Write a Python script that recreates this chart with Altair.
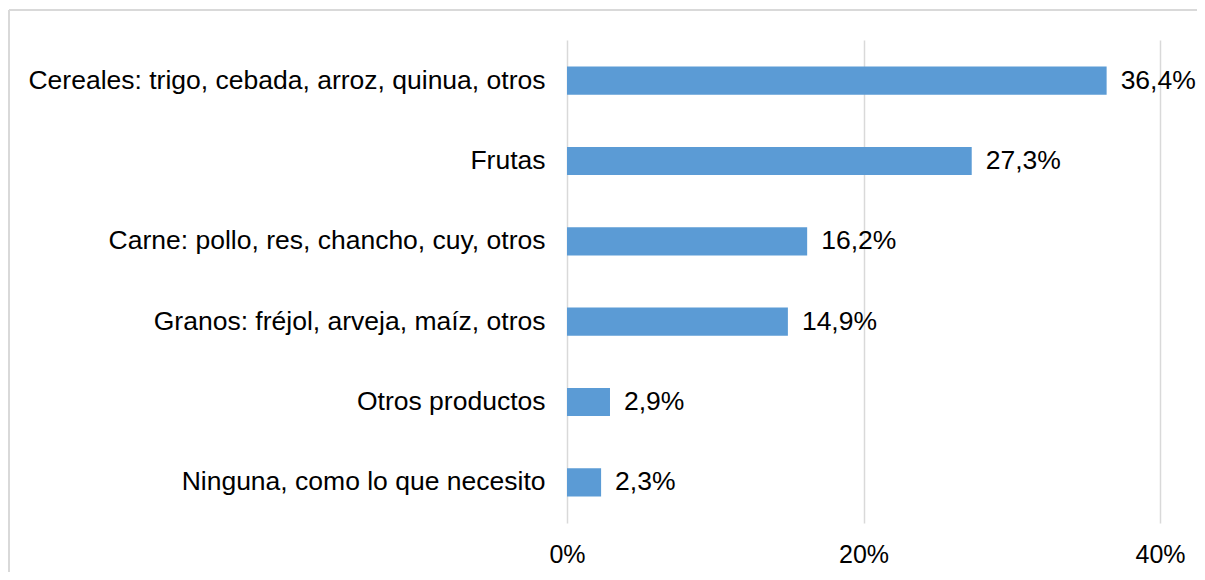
import altair as alt
import pandas as pd

categories = [
    "Cereales: trigo, cebada, arroz, quinua, otros",
    "Frutas",
    "Carne: pollo, res, chancho, cuy, otros",
    "Granos: fréjol, arveja, maíz, otros",
    "Otros productos",
    "Ninguna, como lo que necesito",
]
values = [36.4, 27.3, 16.2, 14.9, 2.9, 2.3]

df = pd.DataFrame({
    "cat": categories,
    "val": [v / 100 for v in values],
    "label": [f"{v:.1f}%".replace(".", ",") for v in values],
})

FONT = "Liberation Sans"
FS = 26.5

y = alt.Y("cat:N", sort=categories, title=None,
          scale=alt.Scale(paddingInner=0.65, paddingOuter=0.33),
          axis=alt.Axis(domain=False, ticks=False, labelPadding=22,
                        labelFontSize=FS, labelFont=FONT, labelColor="#000000",
                        labelLimit=700))
x = alt.X("val:Q", title=None,
          scale=alt.Scale(domain=[0, 0.4], nice=False),
          axis=alt.Axis(format=".0%", values=[0, 0.2, 0.4], domain=False, ticks=False,
                        labelFlush=False, labelAlign="center",
                        labelPadding=19, labelFontSize=25, labelFont=FONT,
                        labelColor="#000000", grid=True, gridColor="#d9d9d9",
                        gridWidth=1.5))

bars = alt.Chart(df).mark_bar(color="#5b9bd5").encode(x=x, y=y)
text = alt.Chart(df).mark_text(align="left", baseline="middle", dx=14,
                               fontSize=FS, font=FONT, color="#000000").encode(
    x="val:Q", y=alt.Y("cat:N", sort=categories), text="label:N")

frame_top = alt.Chart(df).mark_rule(stroke="#d9d9d9", strokeWidth=1.5).encode(
    x=alt.value(-558), x2=alt.value(640), y=alt.value(-30))
frame_left = alt.Chart(df).mark_rule(stroke="#d9d9d9", strokeWidth=1.5).encode(
    x=alt.value(-558), y=alt.value(-30), y2=alt.value(560))

chart = alt.layer(frame_top, frame_left, bars, text).properties(
    width=593, height=483,
    autosize=alt.AutoSizeParams(type="none"),
    padding={"left": 559, "top": 32, "right": 37, "bottom": 49},
).configure_view(stroke=None)

chart.save("out.html", embed_options={"renderer": "svg", "actions": False})
